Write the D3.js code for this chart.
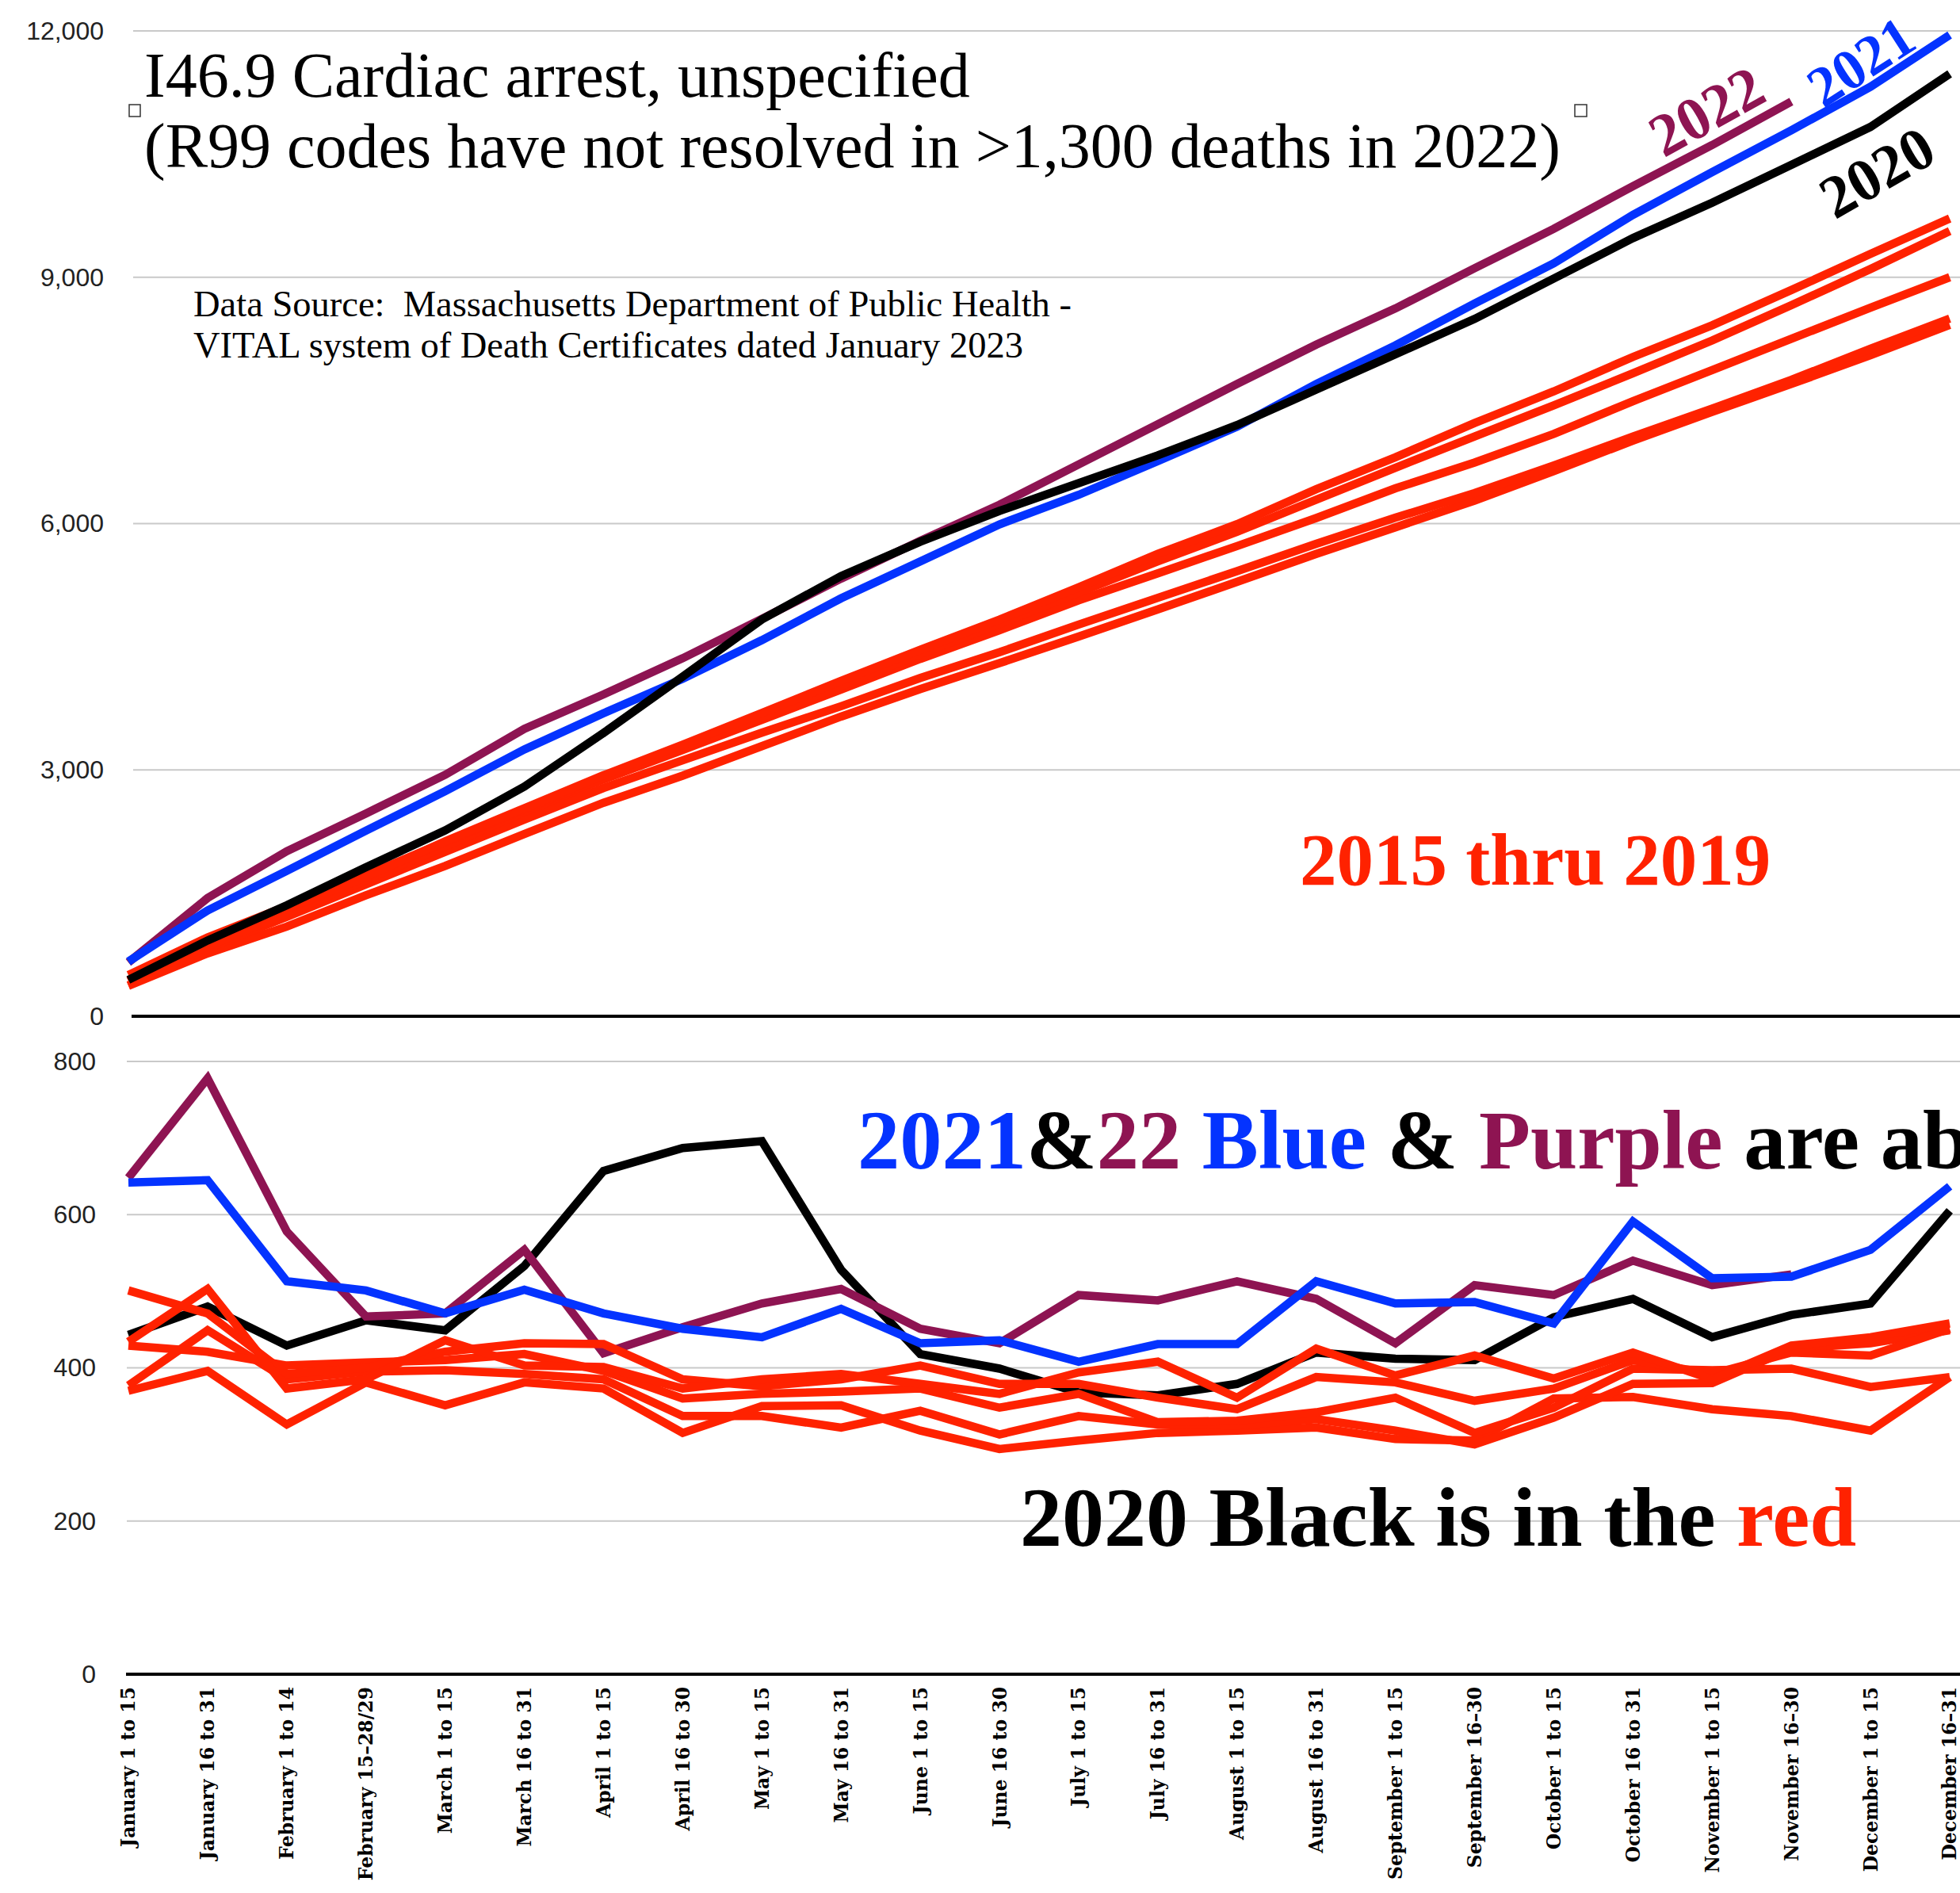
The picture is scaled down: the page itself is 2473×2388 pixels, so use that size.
<!DOCTYPE html>
<html><head><meta charset="utf-8">
<script src="https://cdn.jsdelivr.net/npm/d3@7"></script>
<style>html,body{margin:0;padding:0;background:#fff;overflow:hidden}</style>
</head><body>
<svg id="chart" width="2473" height="2388" xmlns="http://www.w3.org/2000/svg"></svg>
<script>
// ---------- data ----------
const categories = ["January 1 to 15","January 16 to 31","February 1 to 14","February 15\u201328/29","March 1 to 15","March 16 to 31","April 1 to 15","April 16 to 30","May 1 to 15","May 16 to 31","June 1 to 15","June 16 to 30","July 1 to 15","July 16 to 31","August 1 to 15","August 16 to 31","September 1 to 15","September 16\u201330","October 1 to 15","October 16 to 31","November 1 to 15","November 16\u201330","December 1 to 15","December 16\u201331"];

// cumulative deaths (upper panel)
const cum2020 = [443, 923, 1352, 1814, 2263, 2796, 3450, 4137, 4833, 5361, 5779, 6154, 6492, 6831, 7200, 7631, 8062, 8492, 8985, 9477, 9908, 10369, 10831, 11477];
const cum2021 = [666, 1289, 1770, 2260, 2740, 3250, 3690, 4110, 4580, 5090, 5540, 5990, 6350, 6760, 7180, 7700, 8170, 8680, 9170, 9760, 10280, 10790, 11320, 11950];
const cum2022 = [655, 1440, 2010, 2470, 2940, 3500, 3920, 4360, 4840, 5330, 5790, 6230, 6720, 7210, 7700, 8180, 8620, 9110, 9590, 10110, 10610, 11140];
const cumPriorA = [434, 937, 1310, 1695, 2131, 2534, 2935, 3308, 3693, 4085, 4464, 4830, 5224, 5632, 5993, 6418, 6808, 7224, 7610, 8030, 8415, 8844, 9284, 9716];
const cumPriorB = [501, 960, 1340, 1720, 2120, 2520, 2900, 3270, 3640, 4020, 4410, 4780, 5160, 5540, 5900, 6290, 6680, 7060, 7440, 7830, 8230, 8660, 9100, 9563];
const cumPriorC = [429, 850, 1253, 1660, 2070, 2488, 2884, 3244, 3610, 3979, 4352, 4700, 5066, 5395, 5726, 6068, 6429, 6744, 7092, 7491, 7870, 8250, 8630, 9000];
const cumPriorD = [377, 826, 1211, 1606, 2003, 2395, 2780, 3117, 3454, 3776, 4120, 4433, 4770, 5096, 5421, 5754, 6072, 6372, 6707, 7060, 7400, 7750, 8130, 8497];
const cumPriorE = [370, 766, 1092, 1473, 1830, 2220, 2600, 2930, 3290, 3650, 3985, 4300, 4625, 4955, 5290, 5630, 5955, 6280, 6640, 7010, 7360, 7700, 8050, 8421];

// deaths per half-month (lower panel)
const per2020 = [443, 480, 429, 462, 449, 533, 657, 687, 696, 528, 418, 399, 368, 364, 379, 420, 412, 410, 466, 490, 440, 469, 484, 605];
const per2021 = [642, 645, 513, 501, 471, 502, 471, 451, 440, 477, 432, 436, 408, 431, 431, 513, 484, 486, 458, 591, 517, 519, 554, 637];
const per2022 = [648, 778, 578, 467, 471, 554, 419, 453, 484, 503, 451, 432, 495, 488, 513, 490, 432, 508, 495, 540, 508, 522];
const perPriorA = [434, 503, 373, 385, 436, 403, 401, 373, 385, 392, 379, 366, 394, 408, 361, 425, 390, 416, 386, 420, 385, 429, 440, 458];
const perPriorB = [501, 471, 392, 400, 421, 432, 431, 385, 376, 385, 403, 379, 379, 361, 346, 388, 381, 357, 373, 410, 392, 420, 416, 451];
const perPriorC = [429, 421, 403, 407, 410, 418, 396, 360, 366, 369, 373, 348, 366, 329, 331, 342, 361, 315, 348, 399, 397, 399, 375, 388];
const perPriorD = [377, 449, 385, 395, 397, 392, 385, 337, 337, 322, 344, 313, 337, 326, 325, 333, 318, 300, 335, 379, 380, 425, 432, 449];
const perPriorE = [370, 396, 326, 381, 351, 381, 373, 315, 350, 351, 318, 294, 305, 315, 318, 322, 307, 305, 360, 362, 346, 337, 318, 388];

const topTicks = [0, 3000, 6000, 9000, 12000];
const bottomTicks = [0, 200, 400, 600, 800];

// ---------- drawing ----------
const RED = "#ff2200", BLUE = "#0433ff", PURPLE = "#8e1452", BLACK = "#000000";
const svg = d3.select("#chart");
svg.append("rect").attr("width", 2473).attr("height", 2388).attr("fill", "#fff");

const x = d3.scalePoint().domain(categories).range([162, 2460]);
const yTop = d3.scaleLinear().domain([0, 12000]).range([1282, 39]);
const yBot = d3.scaleLinear().domain([0, 800]).range([2112, 1339]);

// gridlines
svg.append("g").selectAll("line").data(topTicks.filter(d => d > 0)).join("line")
  .attr("x1", 168).attr("x2", 2473).attr("y1", d => yTop(d)).attr("y2", d => yTop(d))
  .attr("stroke", "#c9c9c9").attr("stroke-width", 2);
svg.append("g").selectAll("line").data(bottomTicks.filter(d => d > 0)).join("line")
  .attr("x1", 160).attr("x2", 2473).attr("y1", d => yBot(d)).attr("y2", d => yBot(d))
  .attr("stroke", "#c9c9c9").attr("stroke-width", 2);

// y axes (labels only)
function styleAxis(g) {
  g.select(".domain").remove();
  g.selectAll("line").remove();
  g.selectAll("text").attr("font-family", "Liberation Sans, Arial, sans-serif")
    .attr("font-size", 32).attr("fill", "#222");
}
svg.append("g").attr("transform", "translate(131,0)")
  .call(d3.axisLeft(yTop).tickValues(topTicks).tickFormat(d3.format(",")).tickSize(0).tickPadding(0))
  .call(styleAxis);
svg.append("g").attr("transform", "translate(121,0)")
  .call(d3.axisLeft(yBot).tickValues(bottomTicks).tickFormat(d3.format(",")).tickSize(0).tickPadding(0))
  .call(styleAxis);

// title & notes
const title = svg.append("text").attr("font-family", "Liberation Serif, Times New Roman, serif")
  .attr("font-size", 80).attr("fill", "#000");
title.append("tspan").attr("x", 182).attr("y", 122).text("I46.9 Cardiac arrest, unspecified");
title.append("tspan").attr("x", 182).attr("y", 211).text("(R99 codes have not resolved in >1,300 deaths in 2022)");
svg.append("rect").attr("x", 163).attr("y", 132).attr("width", 14).attr("height", 15)
  .attr("fill", "#fff").attr("stroke", "#333").attr("stroke-width", 1.5);
svg.append("rect").attr("x", 1987).attr("y", 132).attr("width", 15).attr("height", 15)
  .attr("fill", "#fff").attr("stroke", "#333").attr("stroke-width", 1.5);

const src = svg.append("text").attr("font-family", "Liberation Serif, Times New Roman, serif")
  .attr("font-size", 46.5).attr("fill", "#000");
src.append("tspan").attr("x", 244).attr("y", 399).attr("xml:space", "preserve")
  .text("Data Source:\u00a0 Massachusetts Department of Public Health -");
src.append("tspan").attr("x", 244).attr("y", 451).text("VITAL system of Death Certificates dated January 2023");

// line generators
const topLine = d3.line().x((d, i) => x(categories[i])).y(d => yTop(d));
const botLine = d3.line().x((d, i) => x(categories[i])).y(d => yBot(d));

function draw(gen, data, color, w) {
  svg.append("path").datum(data).attr("d", gen).attr("fill", "none")
    .attr("stroke", color).attr("stroke-width", w)
    .attr("stroke-linejoin", "miter").attr("stroke-miterlimit", 3);
}

// upper panel
[cumPriorE, cumPriorD, cumPriorC, cumPriorB, cumPriorA].forEach(s => draw(topLine, s, RED, 10.5));
draw(topLine, cum2022, PURPLE, 10.5);
draw(topLine, cum2021, BLUE, 10.5);
draw(topLine, cum2020, BLACK, 10.5);

svg.append("line").attr("x1", 166).attr("x2", 2473).attr("y1", yTop(0)).attr("y2", yTop(0))
  .attr("stroke", "#000").attr("stroke-width", 4);

// lower panel
draw(botLine, per2020, BLACK, 10.5);
draw(botLine, per2022, PURPLE, 10.5);
draw(botLine, per2021, BLUE, 10.5);
[perPriorE, perPriorD, perPriorC, perPriorB, perPriorA].forEach(s => draw(botLine, s, RED, 10.5));

svg.append("line").attr("x1", 159).attr("x2", 2473).attr("y1", yBot(0)).attr("y2", yBot(0))
  .attr("stroke", "#000").attr("stroke-width", 4);

// x category labels
svg.append("g").selectAll("text").data(categories).join("text")
  .attr("transform", d => `translate(${x(d)},2128) rotate(-90)`)
  .attr("text-anchor", "end").attr("dy", "0.36em")
  .attr("font-family", "DejaVu Serif, serif").attr("font-weight", "bold")
  .attr("font-size", 23.5).attr("fill", "#000").text(d => d);

// annotations
const serif = "Liberation Serif, Times New Roman, serif";
function label(txt, cx, cy, ang, color, size) {
  svg.append("text").attr("transform", `translate(${cx},${cy}) rotate(${ang})`)
    .attr("text-anchor", "middle").attr("dominant-baseline", "central")
    .attr("font-family", serif).attr("font-weight", "bold").attr("font-size", size)
    .attr("fill", color).text(txt);
}
label("2022", 2153, 140, -29, PURPLE, 76);
label("2021", 2348, 78, -33, BLUE, 72);
label("2020", 2368, 217, -30, BLACK, 76);

svg.append("text").attr("x", 1640).attr("y", 1116).attr("font-family", serif).attr("font-weight", "bold")
  .attr("font-size", 93).attr("fill", RED).text("2015 thru 2019");

const t1 = svg.append("text").attr("x", 1082).attr("y", 1474).attr("font-family", serif)
  .attr("font-weight", "bold").attr("font-size", 106.5).attr("xml:space", "preserve");
[["2021", BLUE], ["&", BLACK], ["22", PURPLE], [" Blue", BLUE], [" &", BLACK], [" Purple", PURPLE], [" are above", BLACK]]
  .forEach(([t, c]) => t1.append("tspan").attr("fill", c).text(t));

const t2 = svg.append("text").attr("x", 1287).attr("y", 1950).attr("font-family", serif)
  .attr("font-weight", "bold").attr("font-size", 106).attr("xml:space", "preserve");
[["2020 Black is in the ", BLACK], ["red", RED]].forEach(([t, c]) => t2.append("tspan").attr("fill", c).text(t));
</script>
</body></html>
